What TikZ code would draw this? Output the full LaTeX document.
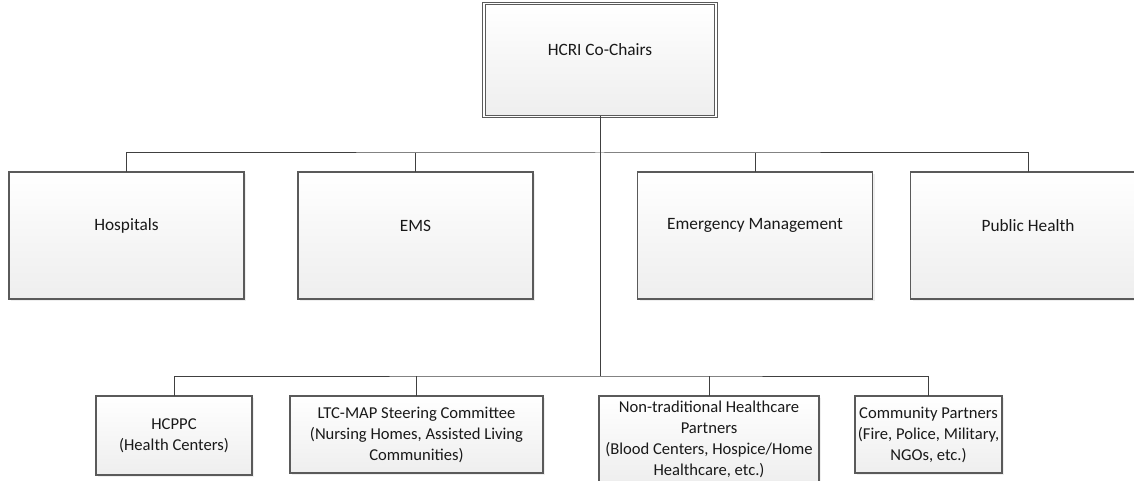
\documentclass[tikz,border=0pt]{standalone}
\usepackage{fontspec}
\setmainfont{Carlito}
\usepackage{tikz}
\usetikzlibrary{shadows}

\definecolor{boxline}{HTML}{5A5A5A}
\definecolor{wireline}{HTML}{404040}
\definecolor{boxtop}{HTML}{FFFFFF}
\definecolor{boxbottom}{HTML}{EEEEEE}

% text sits a little above the middle of the larger boxes
\newcommand{\liftlabel}[1]{\raisebox{10pt}[\height][\depth]{#1}}

\begin{document}
\begin{tikzpicture}[
        x=1pt, y=-1pt,
        unit/.style={
            rectangle,
            draw=boxline,
            line width=1.4pt,
            top color=boxtop,
            bottom color=boxbottom,
            drop shadow={shadow xshift=2pt, shadow yshift=-2pt, fill=black!12},
            align=center,
            text=black!90,
            inner sep=2pt,
            outer sep=0pt
        },
        mainunit/.style={
            unit,
            minimum width=235pt,
            minimum height=127pt,
            font=\fontsize{17.3}{21}\selectfont
        },
        subunit/.style={
            unit,
            anchor=north,
            font=\fontsize{16.6}{21}\selectfont
        },
        wire/.style={
            draw=wireline,
            line width=1pt
        }
    ]

        \useasboundingbox (0,0) rectangle (1134,481);
        \clip (0,0) rectangle (1134,481);

        \node[unit, double=white, double distance=1.6pt, line width=1pt,
              minimum width=232pt, minimum height=113pt,
              font=\fontsize{17.3}{21}\selectfont] (cochairs) at (600,60) {\liftlabel{HCRI Co-Chairs}};

        \node[mainunit] (hosp) at (126.5,235.5) {\liftlabel{Hospitals}};
        \node[mainunit] (ems) at (415.5,235.5) {\liftlabel{EMS}};
        \node[mainunit] (emgmt) at (755,235.5) {\liftlabel{Emergency Management}};
        \node[mainunit] (pubh) at (1028,235.5) {\liftlabel{Public Health}};

        \node[subunit, minimum width=156pt, minimum height=79pt] (hcppc) at (174,396)
            {HCPPC\\(Health Centers)};
        \node[subunit, minimum width=253pt, minimum height=77pt] (ltc) at (416.5,396)
            {LTC-MAP Steering Committee\\(Nursing Homes, Assisted Living\\Communities)};
        \node[subunit, minimum width=220pt, minimum height=86pt, inner sep=1pt] (nontrad) at (709,396)
            {Non-traditional Healthcare\\Partners\\(Blood Centers, Hospice/Home\\Healthcare, etc.)};
        \node[subunit, minimum width=147pt, minimum height=77pt] (commp) at (928.5,396)
            {Community Partners\\(Fire, Police, Military,\\NGOs, etc.)};

        \coordinate (busa) at (600,153);
        \coordinate (busb) at (600,376);

        \draw[wire] (cochairs.south) -- (busb);
        \draw[wire] (hosp.north) |- (busa) -| (pubh.north);
        \draw[wire] (ems.north) -- (ems.north |- busa);
        \draw[wire] (emgmt.north) -- (emgmt.north |- busa);
        \draw[wire] (hcppc.north) |- (busb) -| (commp.north);
        \draw[wire] (ltc.north) -- (ltc.north |- busb);
        \draw[wire] (nontrad.north) -- (nontrad.north |- busb);

    \end{tikzpicture}
\end{document}
